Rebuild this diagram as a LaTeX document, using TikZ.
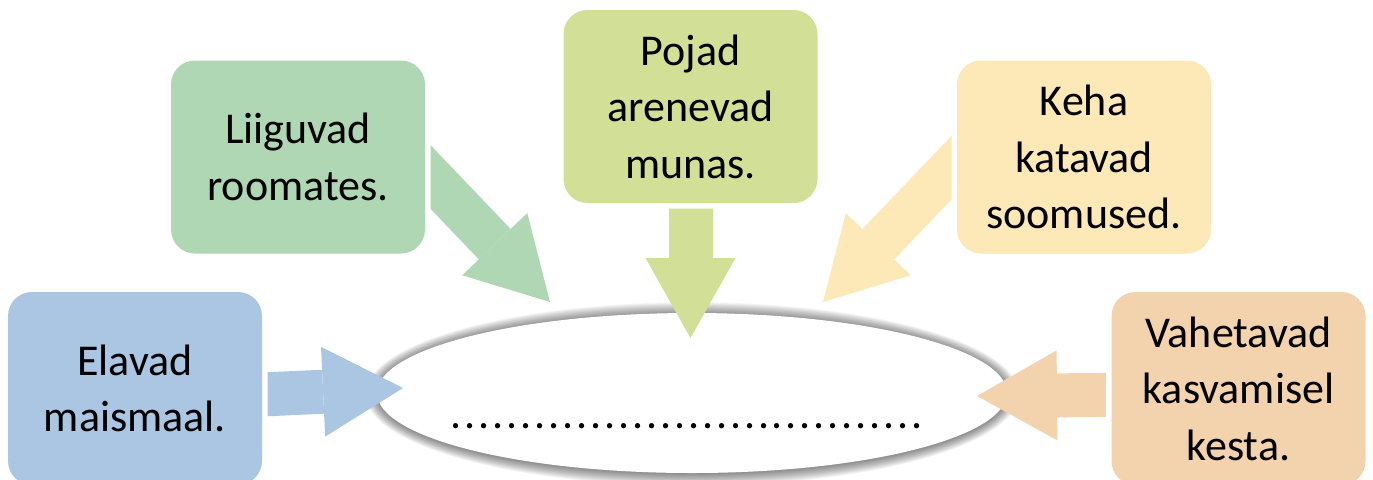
\documentclass[tikz,border=0pt]{standalone}
\usepackage{fontspec}
\setmainfont{Carlito}
\usetikzlibrary{arrows.meta, shapes.geometric}

\definecolor{cardblue}{RGB}{171,198,227}
\definecolor{cardgreen}{RGB}{175,215,179}
\definecolor{cardlime}{RGB}{209,224,150}
\definecolor{cardyellow}{RGB}{253,233,183}
\definecolor{cardpeach}{RGB}{243,210,174}

\pgfdeclarelayer{back}
\pgfdeclarelayer{arrows}
\pgfsetlayers{back,arrows,main}

\begin{document}
\begin{tikzpicture}[x=0.5pt, y=-0.5pt,
  card/.style={rectangle, rounded corners=12pt, minimum width=127pt,
    minimum height=96.5pt, text width=120pt, align=center, inner sep=0pt,
    font=\fontsize{22}{28.25}\selectfont,
    preaction={draw=white, line width=5.5pt}},
  fat/.style={line width=22pt,
    -{Triangle[length=40pt, width=45pt, line width=0pt]}}]
  \useasboundingbox (0,0) rectangle (1373,479);
  % the five cards
  \node[card, fill=cardblue] (blue) at (135,388.5) {Elavad\\maismaal.};
  \node[card, fill=cardgreen] (green) at (298,157) {Liiguvad\\roomates.};
  \node[card, fill=cardlime] (lime) at (690.5,106.5) {Pojad\\arenevad\\munas.};
  \node[card, fill=cardyellow] (yellow) at (1084,157) {Keha\\katavad\\soomused.};
  \node[card, fill=cardpeach] (peach) at (1238.5,388.5) {Vahetavad\\kasvamisel\\kesta.};
  % the empty oval with its soft shadow
  \begin{pgfonlayer}{back}
    \node[ellipse, minimum width=315pt, minimum height=80pt, inner sep=0pt] (pool) at (692,393) {};
    \foreach \g in {1,...,16}
      \fill[black, opacity=0.035] ([yshift=-0.5pt]pool.center) ellipse [x radius=157pt+\g*0.4pt, y radius=39.5pt+\g*0.4pt];
    \fill[white] (pool.center) ellipse [x radius=157.5pt, y radius=40pt];
  \end{pgfonlayer}
  \node[anchor=base, font=\fontsize{22}{26}\selectfont] (dots) at (687,428.5)
    {\foreach \d in {1,...,34}{\makebox[7pt]{.}}};
  % arrow tips, just inside or above the oval
  \coordinate (tipB) at (403,388);
  \coordinate (tipG) at (550,302);
  \coordinate (tipL) at (690.5,338);
  \coordinate (tipY) at (823,302);
  \coordinate (tipP) at (977,396);
  \begin{pgfonlayer}{arrows}
    \draw[fat, cardblue, shorten <=-10pt] ([yshift=-3pt]blue.east) -- (tipB);
    \draw[fat, cardgreen, shorten <=-12.5pt] ([yshift=-7.3pt]green.east) -- (tipG);
    \draw[fat, cardlime] (lime) -- (tipL);
    \draw[fat, cardyellow, shorten <=-12.5pt] ([yshift=-2.7pt]yellow.west) -- (tipY);
    \draw[fat, cardpeach, shorten <=-10pt] ([yshift=-3.2pt]peach.west) -- (tipP);
  \end{pgfonlayer}
\end{tikzpicture}
\end{document}
